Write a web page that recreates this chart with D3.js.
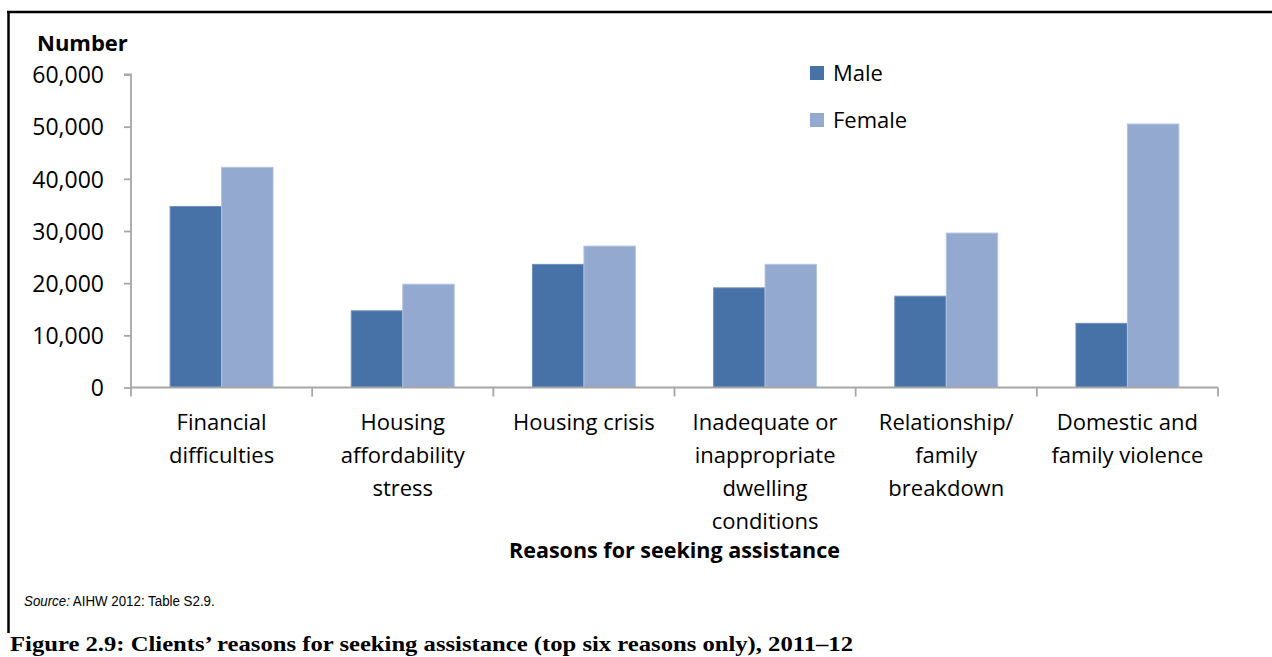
<!DOCTYPE html>
<html>
<head>
<meta charset="utf-8">
<script src="https://cdn.jsdelivr.net/npm/d3@7"></script>
<style>
  html, body { margin: 0; padding: 0; background: #fff; }
  svg { display: block; }
  .lbl { font-family: "Open Sans", "Noto Sans", sans-serif; fill: #000; }
</style>
</head>
<body>
<svg id="chart" width="1272" height="657"></svg>
<script>
// Reasons for seeking assistance, by sex (number of clients), 2011–12
const categories = [
  ["Financial", "difficulties"],
  ["Housing", "affordability", "stress"],
  ["Housing crisis"],
  ["Inadequate or", "inappropriate", "dwelling", "conditions"],
  ["Relationship/", "family", "breakdown"],
  ["Domestic and", "family violence"]
];
const seriesNames = ["Male", "Female"];
const maleValues   = [34700, 14700, 23600, 19100, 17500, 12300];
const femaleValues = [42200, 19800, 27100, 23600, 29600, 50500];
const yTicks = [0, 10000, 20000, 30000, 40000, 50000, 60000];
const colors = { Male: "#4672a7", Female: "#94a9d0" };

const svg = d3.select("#chart");
const W = 1272, H = 657;

// Plot area
const plotL = 131, plotR = 1218, plotT = 74.5, plotB = 387.5;

const catKeys = categories.map(c => c.join(" "));
const rows = catKeys.map((k, i) => ({ key: k, lines: categories[i], Male: maleValues[i], Female: femaleValues[i] }));

const x0 = d3.scaleBand().domain(catKeys).range([plotL, plotR]).paddingInner(0).paddingOuter(0);
const x1 = d3.scaleBand().domain(seriesNames).range([0, x0.bandwidth()]).paddingInner(0).paddingOuter(0.76);
const y = d3.scaleLinear().domain([0, 60000]).range([plotB, plotT]);

// Frame: rule along the top and down the left side
svg.append("line").attr("x1", 7).attr("x2", W).attr("y1", 12).attr("y2", 12)
  .attr("stroke", "#000").attr("stroke-width", 2.5);
svg.append("line").attr("x1", 8.5).attr("x2", 8.5).attr("y1", 11).attr("y2", 633)
  .attr("stroke", "#000").attr("stroke-width", 2.5);

// Bars
const groups = svg.append("g").selectAll("g").data(rows).join("g")
  .attr("transform", d => `translate(${x0(d.key)},0)`);
groups.selectAll("rect").data(d => seriesNames.map(s => ({ s, v: d[s] }))).join("rect")
  .attr("x", d => x1(d.s))
  .attr("width", x1.bandwidth())
  .attr("y", d => y(d.v))
  .attr("height", d => y(0) - y(d.v))
  .attr("fill", d => colors[d.s])
  .attr("stroke", d => d.s === "Male" ? "#6f8fbc" : "#b3c3e0")
  .attr("stroke-width", 1);

// Y axis
const yAxis = d3.axisLeft(y).tickValues(yTicks).tickSize(7).tickPadding(20)
  .tickFormat(d3.format(","));
const gy = svg.append("g").attr("transform", `translate(${plotL},0)`).call(yAxis);
gy.select(".domain").attr("stroke", "#a6a6a6").attr("stroke-width", 1.8)
  .attr("d", `M-7,${plotT}H0V${plotB}`);
gy.selectAll(".tick line").attr("stroke", "#a6a6a6").attr("stroke-width", 1.8);
gy.selectAll(".tick text").attr("class", "lbl").attr("font-size", 23).attr("dy", "0.36em");

// X axis line with tick marks at the category boundaries
const gx = svg.append("g");
gx.append("line").attr("x1", plotL).attr("x2", plotR).attr("y1", plotB).attr("y2", plotB)
  .attr("stroke", "#a6a6a6").attr("stroke-width", 1.8);
const bounds = catKeys.map(k => x0(k)).concat([x0(catKeys[catKeys.length - 1]) + x0.bandwidth()]);
gx.selectAll("line.tk").data(bounds).join("line").attr("class", "tk")
  .attr("x1", d => d).attr("x2", d => d).attr("y1", plotB).attr("y2", plotB + 9)
  .attr("stroke", "#a6a6a6").attr("stroke-width", 1.8);

// Category labels (multi-line)
const catText = svg.append("g").selectAll("text").data(rows).join("text")
  .attr("class", "lbl").attr("font-size", 22).attr("text-anchor", "middle")
  .attr("x", d => x0(d.key) + x0.bandwidth() / 2)
  .attr("y", plotB + 42);
catText.selectAll("tspan").data(d => d.lines.map((l, i) => ({ l, i, cx: x0(d.key) + x0.bandwidth() / 2 })))
  .join("tspan")
  .attr("x", d => d.cx)
  .attr("dy", d => d.i === 0 ? 0 : 33)
  .text(d => d.l);

// Axis titles
svg.append("text").attr("class", "lbl").attr("font-size", 22).attr("font-weight", 700)
  .attr("x", 37).attr("y", 51).text("Number");
svg.append("text").attr("class", "lbl").attr("font-size", 21.5).attr("font-weight", 700)
  .attr("text-anchor", "middle").attr("x", (plotL + plotR) / 2).attr("y", 558)
  .text("Reasons for seeking assistance");

// Legend
const legend = svg.append("g").selectAll("g").data(seriesNames).join("g")
  .attr("transform", (d, i) => `translate(810,${66 + i * 47})`);
legend.append("rect").attr("width", 14).attr("height", 14).attr("fill", d => colors[d]);
legend.append("text").attr("class", "lbl").attr("font-size", 22)
  .attr("x", 23).attr("y", 7).attr("dy", "0.36em").text(d => d);

// Source note (condensed sans)
const src = svg.append("g").attr("transform", "translate(24,606) scale(0.86,1)")
  .append("text")
  .attr("font-family", "'Liberation Sans', Arial, sans-serif")
  .attr("font-size", 15.5);
src.append("tspan").attr("font-style", "italic").text("Source:");
src.append("tspan").text(" AIHW 2012: Table S2.9.");

// Figure caption
svg.append("text").attr("x", 10).attr("y", 651)
  .attr("font-family", "'Liberation Serif', 'DejaVu Serif', serif")
  .attr("font-size", 22).attr("font-weight", 700)
  .attr("textLength", 843).attr("lengthAdjust", "spacingAndGlyphs")
  .text("Figure 2.9: Clients\u2019 reasons for seeking assistance (top six reasons only), 2011\u201312");
</script>
</body>
</html>
